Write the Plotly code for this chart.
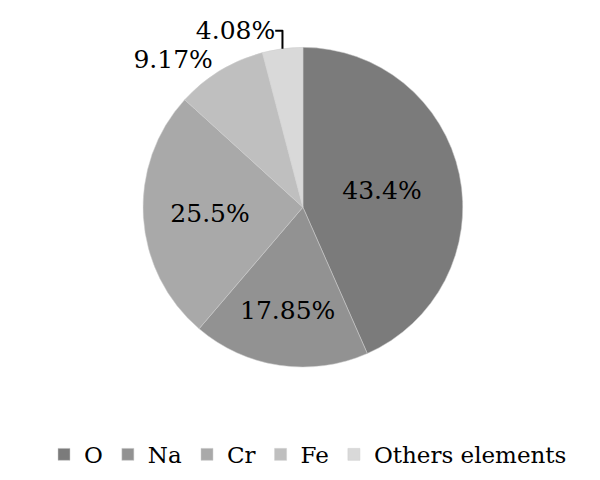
import plotly.graph_objects as go

labels = ['O', 'Na', 'Cr', 'Fe', 'Others elements']
values = [43.4, 17.85, 25.5, 9.17, 4.08]
text_labels = ['43.4%', '17.85%', '25.5%', '9.17%', '4.08%']
colors = ['#7b7b7b', '#929292', '#a9a9a9', '#bfbfbf', '#d9d9d9']

serif = 'DejaVu Serif'

fig = go.Figure(go.Pie(
    labels=labels, values=values,
    text=text_labels, textinfo='text',
    textposition=['inside', 'inside', 'inside', 'outside', 'outside'],
    insidetextorientation='horizontal',
    sort=False, direction='clockwise', rotation=0,
    marker=dict(colors=colors, line=dict(color='#cfcfcf', width=0.5)),
    insidetextfont=dict(family=serif, size=25, color='black'),
    outsidetextfont=dict(family=serif, size=25, color='black'),
    domain=dict(x=[0, 0.983], y=[0.252, 0.918]),
))

fig.update_layout(
    width=600, height=480,
    margin=dict(l=0, r=0, t=0, b=0, autoexpand=False),
    paper_bgcolor='white',
    font=dict(family=serif, color='black'),
    legend=dict(orientation='h', x=0.5, xanchor='center', y=0.07, yanchor='middle',
                font=dict(size=23, family=serif),
                itemwidth=30, tracegroupgap=0),
)

fig.write_html("out.html")
